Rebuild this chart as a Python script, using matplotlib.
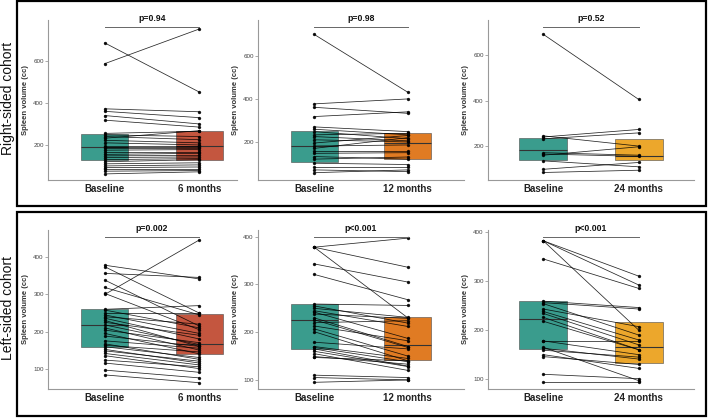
import matplotlib
matplotlib.use("Agg")
import matplotlib.pyplot as plt
from matplotlib.patches import Rectangle

plt.rcParams["font.family"] = ["Liberation Sans", "DejaVu Sans"]

W, H = 710, 418

# ---- data (spleen volume, cc) ----
cohorts = ["Right-sided cohort", "Left-sided cohort"]
followups = ["6 months", "12 months", "24 months"]

# right-sided cohort
r6_base = [686, 587, 372, 360, 340, 318, 255, 248, 240, 232, 222, 210, 195, 190,
           185, 175, 165, 155, 148, 140, 130, 120, 110, 100, 92, 85, 75, 62]
r6_fu = [452, 752, 358, 330, 300, 285, 265, 240, 225, 268, 210, 200, 195, 190,
         185, 178, 165, 160, 150, 143, 135, 130, 115, 105, 95, 85, 78, 72]
r12_base = [700, 377, 361, 318, 270, 259, 248, 233, 225, 210, 195, 181, 170, 160,
            147, 132, 120, 101, 85, 70, 57]
r12_fu = [431, 400, 333, 340, 248, 233, 215, 240, 205, 200, 230, 186, 220, 160,
          150, 120, 130, 95, 85, 62, 70]
r24_base = [691, 245, 240, 232, 171, 165, 160, 135, 98, 84]
r24_fu = [405, 200, 273, 258, 160, 155, 197, 109, 128, 94]

# left-sided cohort
l6_base = [379, 375, 357, 339, 319, 300, 303, 260, 258, 250, 245, 240, 236, 230, 225, 218,
           210, 204, 195, 188, 175, 167, 163, 159, 152, 148, 141, 135, 123, 115, 96, 83]
l6_fu = [342, 250, 346, 215, 245, 447, 205, 270, 210, 250, 195, 220, 180, 160, 190, 165,
         150, 170, 140, 160, 155, 125, 145, 130, 115, 120, 110, 100, 105, 90, 75, 62]
l12_base = [378, 378, 378, 343, 321, 259, 255, 250, 245, 242, 238, 230, 226, 220,
            213, 207, 201, 179, 170, 168, 165, 160, 155, 149, 147, 110, 105, 95]
l12_fu = [397, 336, 230, 305, 268, 256, 219, 231, 212, 187, 229, 170, 168, 224,
          182, 150, 140, 165, 145, 138, 129, 128, 120, 133, 140, 105, 100, 100]
l24_base = [382, 382, 382, 345, 259, 256, 254, 243, 238, 234, 226, 218, 178, 178,
            165, 163, 159, 150, 146, 110, 95]
l24_fu = [310, 292, 200, 285, 246, 243, 190, 207, 180, 170, 160, 160, 178, 150,
          97, 141, 145, 122, 130, 101, 95]

# box stats (q1, median, q3) for baseline and follow-up
box_base = [[(127, 190, 251), (108, 181, 251), (141, 182, 237)],
            [(159, 218, 260), (164, 226, 259), (161, 222, 259)]]
box_fu = [[(130, 195, 267), (120, 197, 243), (138, 156, 229)],
          [(140, 166, 247), (142, 173, 231), (134, 166, 216)]]

p_values = [["p=0.94", "p=0.98", "p=0.52"],
            ["p=0.002", "p<0.001", "p<0.001"]]

pairs = [[(r6_base, r6_fu), (r12_base, r12_fu), (r24_base, r24_fu)],
         [(l6_base, l6_fu), (l12_base, l12_fu), (l24_base, l24_fu)]]

yticks = [[[200, 400, 600], [200, 400, 600], [200, 400, 600]],
          [[100, 200, 300, 400], [100, 200, 300, 400], [100, 200, 300, 400]]]

# ---- layout / styling ----
base_color = "#3a9c8d"
fu_colors = ["#c4563f", "#e07b23", "#eca72c"]

ylims = [[(33, 795), (23, 767), (51, 754)],
         [(45, 474), (81, 414), (80, 404)]]
bracket_y = [[762, 733, 723], [454, 399, 389]]
xlims = [(-0.6, 1.4), (-0.6, 1.6), (-0.58, 1.58)]
cols_px = [(48, 237), (258, 464), (488, 694)]
rows_px = [(20, 180), (230, 389)]

fig = plt.figure(figsize=(W / 100, H / 100), dpi=100)

# frames around each cohort
for top, bot in [(1, 206), (212, 416)]:
    fig.add_artist(Rectangle((17 / W, 1 - bot / H), (706 - 17) / W, (bot - top) / H,
                             transform=fig.transFigure, fill=False,
                             edgecolor="black", linewidth=1.6))

for r in range(2):
    top, bot = rows_px[r]
    fig.text(8.5 / W, 1 - ((top + bot) / 2 - 2) / H, cohorts[r], rotation=90,
             ha="center", va="center", fontsize=10, color="#111")
    for c in range(3):
        left, right = cols_px[c]
        ax = fig.add_axes([left / W, 1 - bot / H, (right - left) / W, (bot - top) / H])
        base, fu = pairs[r][c]

        # boxes (IQR + median), behind the paired lines
        for x, (q1, med, q3), col in [(0, box_base[r][c], base_color),
                                      (1, box_fu[r][c], fu_colors[c])]:
            ax.bar(x, q3 - q1, bottom=q1, width=0.5, color=col,
                   edgecolor="#4a4a4a", linewidth=0.4, zorder=1)
            ax.hlines(med, x - 0.25, x + 0.25, color="#333333", linewidth=0.8, zorder=2)

        for b, f in zip(base, fu):
            ax.plot([0, 1], [b, f], color="black", linewidth=0.55, alpha=0.85,
                    marker="o", markersize=1.4, zorder=3)

        # significance bracket
        py = bracket_y[r][c]
        ax.plot([0, 1], [py, py], color="#666666", linewidth=0.7, zorder=3)
        ax.annotate(p_values[r][c], (0.5, py), xytext=(0, 3), textcoords="offset points",
                    ha="center", va="bottom", fontsize=6.2, fontweight="bold", color="#111")

        ax.set_xlim(*xlims[c])
        ax.set_ylim(*ylims[r][c])
        ax.set_xticks([0, 1])
        ax.set_xticklabels(["Baseline", followups[c]], fontsize=7, fontweight="bold",
                           color="#222")
        ax.set_yticks(yticks[r][c])
        ax.tick_params(axis="y", labelsize=4.5, length=2, width=0.5, color="#888",
                       labelcolor="#444", pad=1)
        ax.tick_params(axis="x", length=0, pad=3)
        ax.set_ylabel("Spleen volume (cc)", fontsize=5.5, fontweight="bold",
                      color="#333", labelpad=3)
        for s in ["top", "right"]:
            ax.spines[s].set_visible(False)
        for s in ["left", "bottom"]:
            ax.spines[s].set_color("#999999")
            ax.spines[s].set_linewidth(0.8)

fig.savefig("out.png", dpi=100)
